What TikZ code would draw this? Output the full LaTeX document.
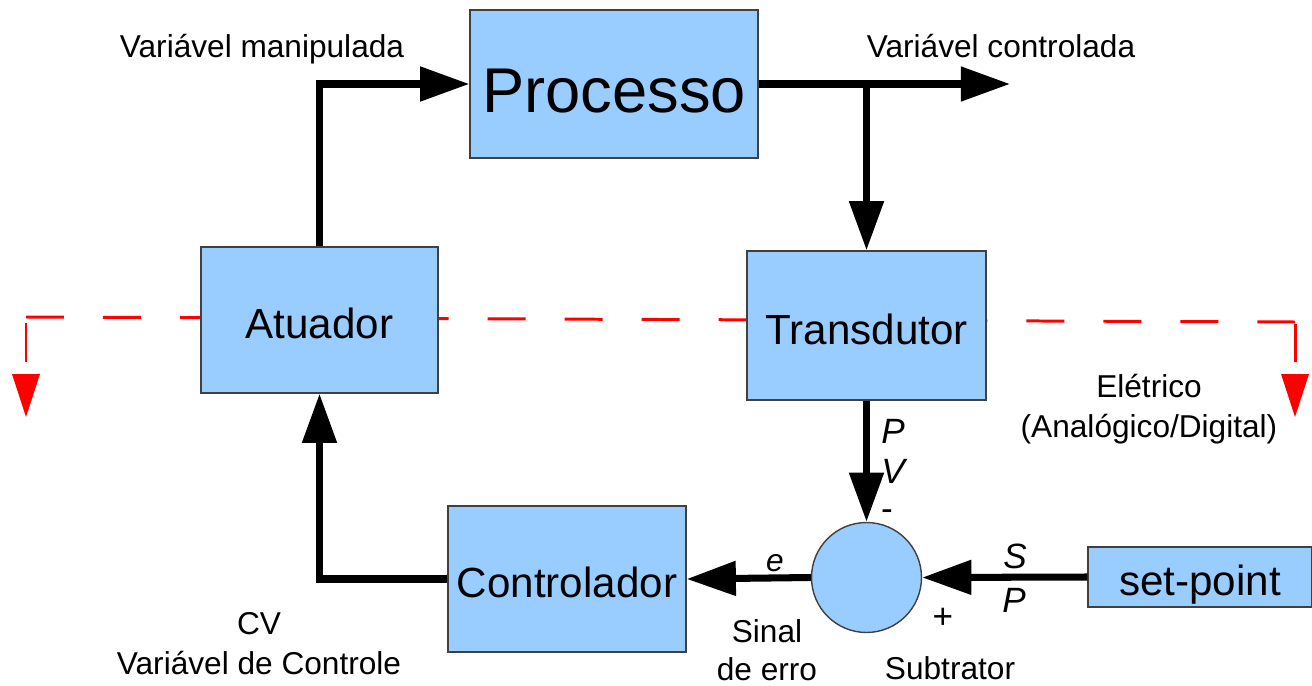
\documentclass[tikz,border=0pt]{standalone}
\usepackage{fontspec}
\setmainfont{Liberation Sans}
\usetikzlibrary{arrows.meta}
\definecolor{caixa}{HTML}{99CCFF}
\tikzset{
  bloco/.style={draw=black!75, line width=0.8pt, fill=caixa, inner sep=0pt, text height=21.6pt, text depth=0pt, font=\fontsize{24}{28}\selectfont},
  fluxo/.style={line width=4pt, -{Triangle[length=28pt,width=19pt]}},
  rotulo/.style={align=center, inner sep=0pt, font=\fontsize{18}{22.8}\selectfont},
  sinal/.style={inner sep=0pt, font=\fontsize{20}{24}\selectfont\itshape},
  eletrico/.style={red, line width=1.7pt, dash pattern=on 21.6pt off 22.2pt},
}

\begin{document}
\begin{tikzpicture}[x=0.02cm, y=-0.02cm]
		%%%%% START %%%%%
		\useasboundingbox (0, 0) rectangle (1312, 686);
		
		% linha eletrica (atras dos blocos)
		\draw[eletrico] (26, 317) -- (1295, 322);
		\draw[red, line width=1.7pt] (26, 323) -- (26, 362);
		\draw[red, line width=1.7pt] (1295, 324) -- (1295, 362);
		\fill[red] (12, 374) -- (40, 374) -- (26, 417) -- cycle;
		\fill[red] (1281, 374) -- (1309, 374) -- (1295, 417) -- cycle;
		
		% blocos
		\node[bloco, minimum width=5.76cm, minimum height=2.96cm, text height=32pt, font=\fontsize{36}{40}\selectfont] (processo) at (614, 84) {Processo};
		\node[bloco, minimum width=4.74cm, minimum height=2.92cm] (atuador) at (319.5, 320) {Atuador};
		\node[bloco, minimum width=4.78cm, minimum height=2.98cm] (transdutor) at (866.5, 325.5) {Transdutor};
		\node[bloco, minimum width=4.76cm, minimum height=2.92cm] (controlador) at (567, 579) {Controlador};
		\node[bloco, minimum width=4.48cm, minimum height=1.2cm] (setpoint) at (1200, 577) {set-point};
		\node[bloco, circle, minimum size=2.2cm] (somador) at (866.5, 577.5) {};
		
		% conexoes
		\coordinate (saida) at (1010, 84);
		\coordinate (ramo) at (transdutor.north |- processo.east);
		\draw[fluxo] (atuador.north) |- (processo.west);
		\draw[fluxo] (processo.east) -- (saida);
		\draw[fluxo] (ramo) -- (transdutor.north);
		\draw[fluxo] (transdutor.south) -- (somador.north);
		\draw[fluxo] (setpoint.west) -- (somador.east);
		\draw[fluxo] (somador.west) -- (controlador.east);
		\draw[fluxo] (controlador.west) -| (atuador.south);
		
		% rotulos
		\node[rotulo, anchor=base] (manipulada) at (262, 58) {Variável manipulada};
		\node[rotulo, anchor=base] (controlada) at (1001, 58) {Variável controlada};
		\node[rotulo] (eletr) at (1149, 409) {Elétrico\\(Analógico/Digital)};
		\node[rotulo] (cv) at (259, 644) {CV\\Variável de Controle};
		\node[rotulo, font=\fontsize{18}{21.6}\selectfont] (erro) at (767, 650) {Sinal\\de erro};
		\node[rotulo, anchor=base] (subtrator) at (950, 679) {Subtrator};
		
		\node[sinal] (pvP) at (893, 431) {P};
		\node[sinal] (pvV) at (893, 471) {V};
		\node[rotulo, font=\fontsize{20}{24}\selectfont] (menos) at (887, 515) {-};
		\node[sinal] (spS) at (1015, 556) {S};
		\node[sinal] (spP) at (1014, 600) {P};
		\node[sinal, font=\fontsize{18}{22}\selectfont\itshape] (e) at (775, 563) {e};
		\node[rotulo, font=\fontsize{20}{24}\selectfont] (mais) at (943, 618) {+};
		
		%%%%% END %%%%%
	\end{tikzpicture}
\end{document}
